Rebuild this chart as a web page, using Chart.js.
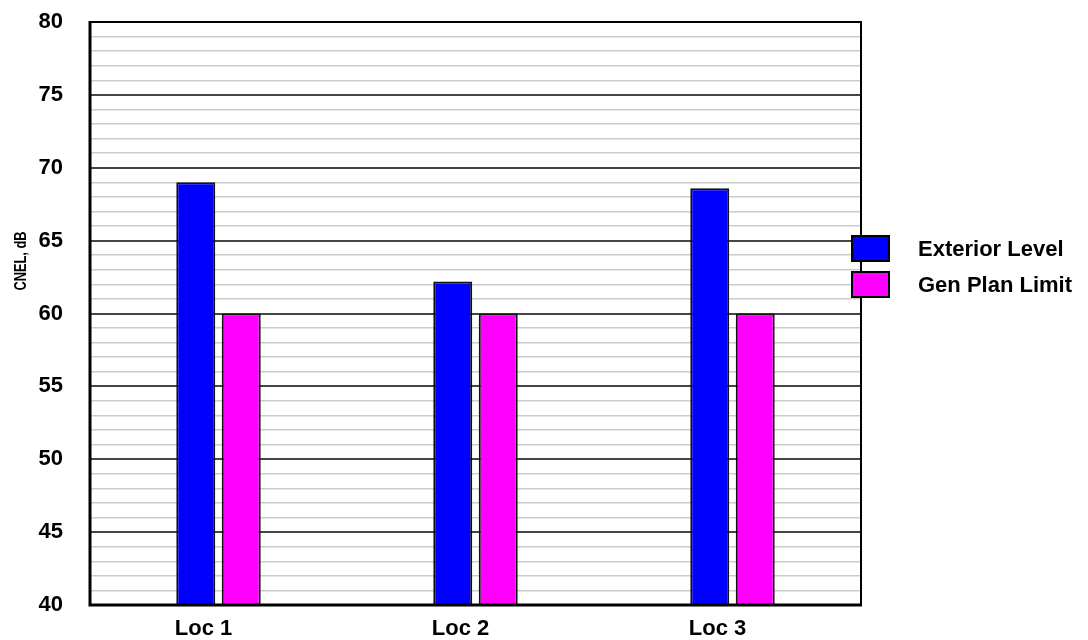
<!DOCTYPE html>
<html>
<head>
<meta charset="utf-8">
<script src="https://cdn.jsdelivr.net/npm/chart.js@4"></script>
<style>
  html, body { margin: 0; padding: 0; background: #ffffff; }
  #wrap { position: relative; width: 1088px; height: 640px; }
</style>
</head>
<body>
<div id="wrap"><canvas id="chart"></canvas></div>
<script>
// Measurement locations and noise levels (CNEL, dB)
const locations = ['Loc 1', 'Loc 2', 'Loc 3'];
const exteriorLevel = [69.0, 62.2, 68.6];
const genPlanLimit = [60, 60, 60];
const seriesNames = ['Exterior Level', 'Gen Plan Limit'];
const axisTitle = 'CNEL, dB';
const yMin = 40;
const yMax = 80;

const FONT = '"Liberation Sans", Arial, sans-serif';

// Frame around the plot area, the condensed axis title and a legend box beside the plot
const framePlugin = {
  id: 'frame',
  afterDraw(chart) {
    const { ctx, chartArea: a } = chart;
    ctx.save();
    ctx.strokeStyle = '#000000';
    // top and right edges
    ctx.lineWidth = 2;
    ctx.beginPath();
    ctx.moveTo(a.left, a.top);
    ctx.lineTo(a.right, a.top);
    ctx.lineTo(a.right, a.bottom);
    ctx.stroke();
    // heavier left and bottom axes
    ctx.lineWidth = 3;
    ctx.beginPath();
    ctx.moveTo(a.left, a.top - 1);
    ctx.lineTo(a.left, a.bottom);
    ctx.lineTo(a.right + 1, a.bottom);
    ctx.stroke();

    // vertical axis title, narrow lettering
    ctx.save();
    ctx.translate(22, 261);
    ctx.rotate(-Math.PI / 2);
    ctx.scale(0.8, 1);
    ctx.font = 'bold 16px ' + FONT;
    ctx.fillStyle = '#000000';
    ctx.textAlign = 'center';
    ctx.textBaseline = 'middle';
    ctx.fillText(axisTitle, 0, 0);
    ctx.restore();

    // legend
    const boxX = 852, boxW = 37, boxH = 25;
    const rows = [236, 272];
    ctx.font = 'bold 22px ' + FONT;
    ctx.textBaseline = 'middle';
    ctx.textAlign = 'left';
    chart.data.datasets.forEach((ds, i) => {
      const y = rows[i];
      ctx.fillStyle = ds.backgroundColor;
      ctx.fillRect(boxX, y, boxW, boxH);
      ctx.lineWidth = 2;
      ctx.strokeStyle = '#000000';
      ctx.strokeRect(boxX, y, boxW, boxH);
      ctx.fillStyle = '#000000';
      ctx.fillText(ds.label, 918, y + boxH / 2 + 1);
    });
    ctx.restore();
  }
};

new Chart(document.getElementById('chart'), {
  type: 'bar',
  data: {
    labels: locations,
    datasets: [
      {
        label: seriesNames[0],
        data: exteriorLevel,
        backgroundColor: '#0000ff',
        borderColor: '#111111',
        borderWidth: 2,
        borderSkipped: 'bottom'
      },
      {
        label: seriesNames[1],
        data: genPlanLimit,
        backgroundColor: '#ff00ff',
        borderColor: '#111111',
        borderWidth: 2,
        borderSkipped: 'bottom'
      }
    ]
  },
  options: {
    responsive: true,
    maintainAspectRatio: false,
    animation: false,
    devicePixelRatio: 1,
    layout: { padding: { left: 0, top: 22, right: 227, bottom: 0 } },
    datasets: {
      bar: { categoryPercentage: 0.354, barPercentage: 0.857 }
    },
    plugins: {
      legend: { display: false },
      tooltip: { enabled: false }
    },
    scales: {
      x: {
        grid: { display: false },
        border: { display: false },
        ticks: {
          color: '#000000',
          font: { family: FONT, size: 22, weight: 'bold' },
          labelOffset: -15,
          padding: 3,
          maxRotation: 0
        },
        afterFit(scale) {
          scale.height = 35;
          scale.paddingLeft = 0;
          scale.paddingRight = 0;
        }
      },
      y: {
        min: yMin,
        max: yMax,
        ticks: {
          stepSize: 1,
          autoSkip: false,
          color: '#000000',
          font: { family: FONT, size: 22, weight: 'bold' },
          padding: 27,
          callback(v) { return v % 5 === 0 ? String(v) : ''; }
        },
        grid: {
          drawTicks: false,
          lineWidth(ctx) { return ctx.tick && ctx.tick.value % 5 === 0 ? 2 : 1.5; },
          color(ctx) { return ctx.tick && ctx.tick.value % 5 === 0 ? '#454545' : '#cccccc'; }
        },
        border: { display: false },
        afterFit(scale) {
          scale.width = 90;
          scale.paddingTop = 0;
          scale.paddingBottom = 0;
        }
      }
    }
  },
  plugins: [framePlugin]
});
</script>
</body>
</html>
